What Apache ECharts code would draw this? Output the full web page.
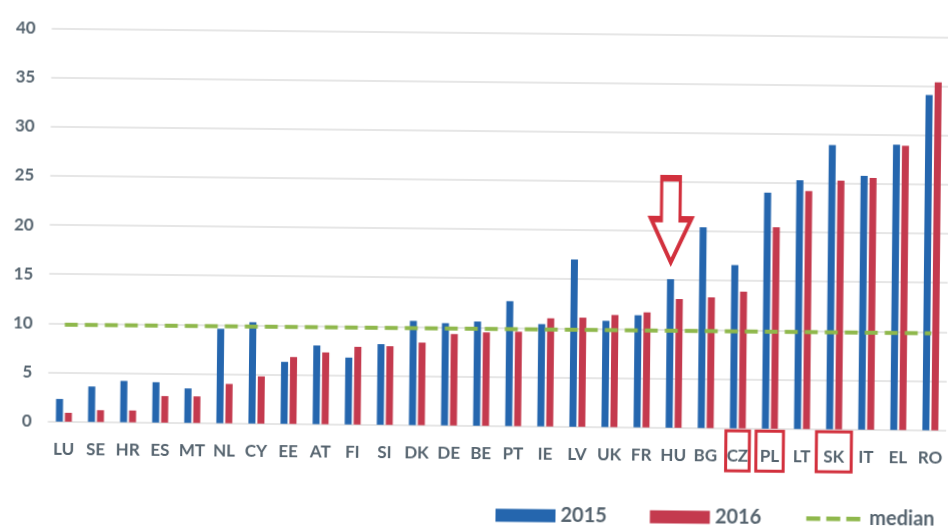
<!DOCTYPE html>
<html>
<head>
<meta charset="utf-8">
<script src="https://cdn.jsdelivr.net/npm/echarts@6/dist/echarts.min.js"></script>
<style>
  html, body { margin: 0; padding: 0; background: #ffffff; overflow: hidden; }
  #chart { width: 948px; height: 526px; transform: rotate(0.57deg); transform-origin: 50% 50%; }
</style>
</head>
<body>
<div id="chart"></div>
<script>
// Countries, ordered by the 2016 figure
const countries = ['LU','SE','HR','ES','MT','NL','CY','EE','AT','FI','SI','DK','DE','BE','PT','IE','LV','UK','FR','HU','BG','CZ','PL','LT','SK','IT','EL','RO'];

const values2015 = [2.3, 3.6, 4.2, 4.1, 3.5, 9.6, 10.3, 6.3, 8.0, 6.8, 8.2, 10.6, 10.4, 10.6, 12.7, 10.4, 17.0, 10.8, 11.4, 15.1, 20.4, 16.6, 24.0, 25.3, 28.9, 25.8, 29.0, 34.1];
const values2016 = [0.9, 1.2, 1.2, 2.7, 2.7, 4.0, 4.8, 6.8, 7.3, 7.9, 8.0, 8.4, 9.3, 9.5, 9.6, 11.0, 11.1, 11.4, 11.7, 13.1, 13.3, 13.9, 20.5, 24.2, 25.3, 25.6, 28.9, 35.4];
const medianValue = 9.85;
const medianLine = countries.map(() => medianValue);

const yTicks = [0, 5, 10, 15, 20, 25, 30, 35, 40];

// Countries framed in red on the axis, and the one pointed at by the arrow
const framed = ['CZ', 'PL', 'SK'];
const arrowCountry = 'HU';
const arrowLevel = 21.1;

const BLUE = '#2566ae';
const RED = '#c43a4e';
const GREEN = '#8fb84c';
const TEXT = '#56646f';
const MARK_RED = '#d2303d';

const labelFont = { fontFamily: 'Lato', fontWeight: 'bold', fontSize: 17, color: TEXT, lineHeight: 17 };
const framePad = { CZ: 1, PL: 4, SK: 7 };

const rich = { n: Object.assign({ padding: [17, 0, 6, 0] }, labelFont) };
framed.forEach(function (c) {
  rich[c] = Object.assign({
    padding: [17, framePad[c], 6, framePad[c]],
    borderColor: MARK_RED,
    borderWidth: 3
  }, labelFont);
});

// Legend glyph for the median: three short dashes (the two bare moves fix the icon's box)
const dashIcon = 'path://M0,0 L0,0 M60,13 L60,13 M2,4.5 L16,4.5 L16,9 L2,9 Z M22,4.5 L36,4.5 L36,9 L22,9 Z M42,4.5 L56,4.5 L56,9 L42,9 Z';

const chart = echarts.init(document.getElementById('chart'), null, { renderer: 'canvas' });

chart.setOption({
  animation: false,
  backgroundColor: '#ffffff',
  grid: { left: 49.4, top: 32.4, width: 903.2, height: 393.3 },
  legend: {
    left: 498,
    top: 505,
    width: 450,
    padding: 0,
    itemWidth: 60,
    itemHeight: 13,
    itemGap: 43,
    textStyle: { fontFamily: 'Lato', fontWeight: 'bold', fontSize: 20, color: TEXT },
    data: [
      { name: '2015', icon: 'rect' },
      { name: '2016', icon: 'rect' },
      { name: 'median', icon: dashIcon, itemStyle: { color: GREEN, borderWidth: 0 } }
    ]
  },
  xAxis: {
    type: 'category',
    data: countries,
    axisLine: { show: false },
    axisTick: { show: false },
    axisLabel: {
      interval: 0,
      margin: 14,
      formatter: function (v) {
        return framed.indexOf(v) >= 0 ? '{' + v + '|' + v + '}' : '{n|' + v + '}';
      },
      rich: rich
    }
  },
  yAxis: {
    type: 'value',
    min: yTicks[0],
    max: yTicks[yTicks.length - 1],
    interval: yTicks[1] - yTicks[0],
    axisLine: { show: false },
    axisTick: { show: false },
    splitLine: { lineStyle: { color: '#dedede', width: 1.5 } },
    axisLabel: {
      margin: 16,
      fontFamily: 'Lato',
      fontWeight: 'bold',
      fontSize: 17,
      color: TEXT
    }
  },
  series: [
    {
      name: '2015',
      type: 'bar',
      data: values2015,
      barWidth: 7,
      barGap: '28%',
      itemStyle: { color: BLUE },
      markPoint: {
        silent: true,
        symbol: 'path://M11,0 L31,0 L31,43 L43,43 L21.5,88 L0,43 L11,43 Z',
        symbolSize: [40, 84],
        itemStyle: { color: 'rgba(255,255,255,0)', borderColor: MARK_RED, borderWidth: 4.5 },
        label: { show: false },
        data: [{ coord: [arrowCountry, arrowLevel] }]
      }
    },
    {
      name: '2016',
      type: 'bar',
      data: values2016,
      barWidth: 7,
      itemStyle: { color: RED }
    },
    {
      name: 'median',
      type: 'line',
      data: medianLine,
      symbol: 'none',
      z: 5,
      lineStyle: { color: GREEN, width: 4, type: [13, 7] },
      itemStyle: { color: GREEN }
    }
  ]
});
</script>
</body>
</html>
